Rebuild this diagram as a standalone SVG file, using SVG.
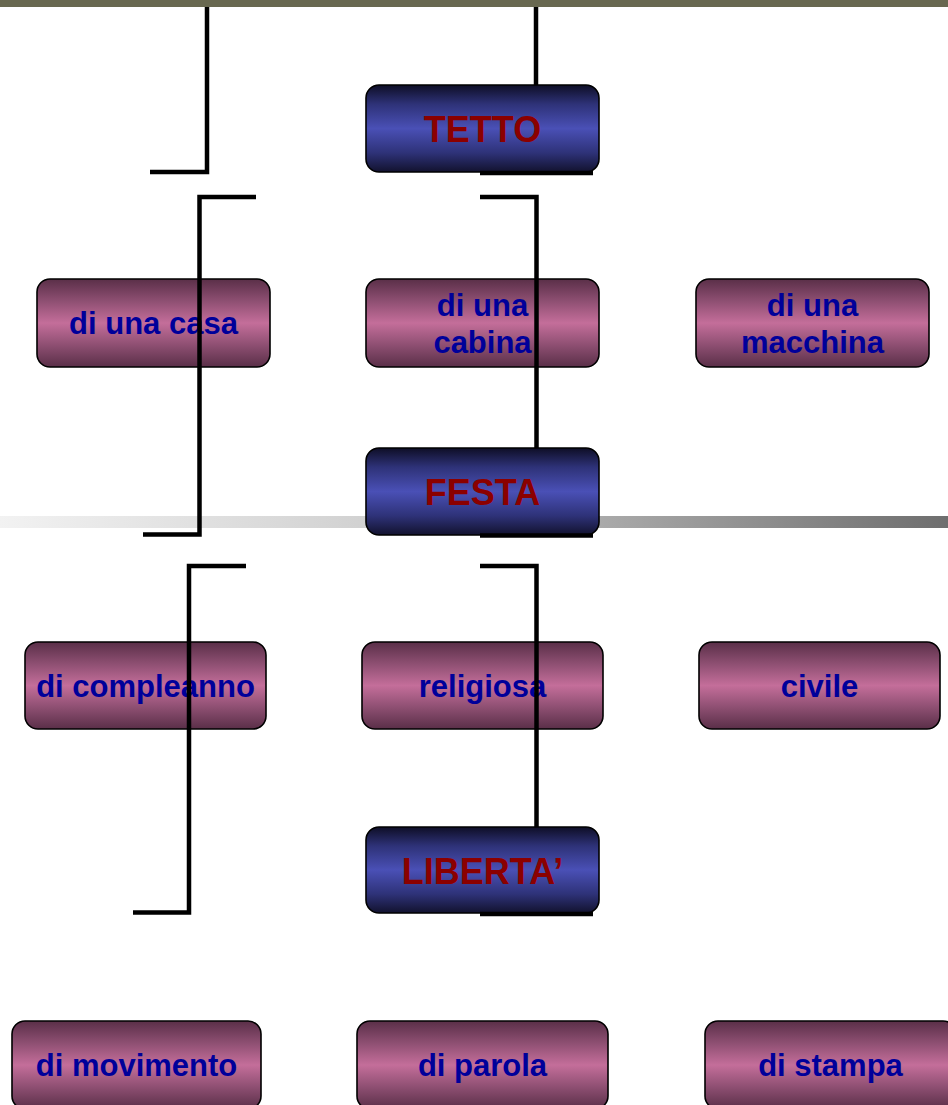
<svg xmlns="http://www.w3.org/2000/svg" width="948" height="1105" viewBox="0 0 948 1105">
<style>
.blue{fill:url(#gBlue);stroke:#000;stroke-width:1.6}
.pink{fill:url(#gPink);stroke:#000;stroke-width:1.6}
.tb{font-family:"Liberation Sans",Arial,sans-serif;font-weight:bold;font-size:36px;fill:#8b0000;text-anchor:middle}
.tp{font-family:"Liberation Sans",Arial,sans-serif;font-weight:bold;font-size:31px;fill:#00009a;text-anchor:middle}
.ln{fill:none;stroke:#000;stroke-width:4.5;stroke-linejoin:miter;stroke-linecap:butt}
</style>
<defs>
<linearGradient id="gBlue" x1="0" y1="0" x2="0" y2="1">
<stop offset="0" stop-color="#0e0e26"/>
<stop offset="0.22" stop-color="#2e3278"/>
<stop offset="0.5" stop-color="#4a50b6"/>
<stop offset="0.78" stop-color="#2e3278"/>
<stop offset="1" stop-color="#12122e"/>
</linearGradient>
<linearGradient id="gPink" x1="0" y1="0" x2="0" y2="1">
<stop offset="0" stop-color="#5a2f48"/>
<stop offset="0.25" stop-color="#8e4f72"/>
<stop offset="0.5" stop-color="#c46e9a"/>
<stop offset="0.75" stop-color="#8e4f72"/>
<stop offset="1" stop-color="#5a2f48"/>
</linearGradient>
<linearGradient id="gBar" x1="0" y1="0" x2="1" y2="0">
<stop offset="0" stop-color="#f2f2f2"/>
<stop offset="0.4" stop-color="#d0d0d0"/>
<stop offset="1" stop-color="#6e6e6e"/>
</linearGradient>
</defs>
<rect x="0" y="0" width="948" height="1105" fill="#ffffff"/>
<rect x="0" y="0" width="948" height="7" fill="#686850"/>
<rect x="0" y="516" width="948" height="12" fill="url(#gBar)"/>

<g id="tetto"><rect class="blue" x="366" y="85" width="233" height="87" rx="13"/><text class="tb" x="482.5" y="142">TETTO</text></g>
<g id="casa"><rect class="pink" x="37" y="279" width="233" height="88" rx="13"/><text class="tp" x="153.5" y="334">di una casa</text></g>
<g id="cabina"><rect class="pink" x="366" y="279" width="233" height="88" rx="13"/><text class="tp" x="482.5" y="316">di una</text><text class="tp" x="482.5" y="353">cabina</text></g>
<g id="macchina"><rect class="pink" x="696" y="279" width="233" height="88" rx="13"/><text class="tp" x="812.5" y="316">di una</text><text class="tp" x="812.5" y="353">macchina</text></g>
<g id="festa"><rect class="blue" x="366" y="448" width="233" height="87" rx="13"/><text class="tb" x="482.5" y="505">FESTA</text></g>
<g id="compleanno"><rect class="pink" x="25" y="642" width="241" height="87" rx="13"/><text class="tp" x="145.5" y="697">di compleanno</text></g>
<g id="religiosa"><rect class="pink" x="362" y="642" width="241" height="87" rx="13"/><text class="tp" x="482.5" y="697">religiosa</text></g>
<g id="civile"><rect class="pink" x="699" y="642" width="241" height="87" rx="13"/><text class="tp" x="819.5" y="697">civile</text></g>
<g id="liberta"><rect class="blue" x="366" y="827" width="233" height="86" rx="13"/><text class="tb" x="482.5" y="884">LIBERTA’</text></g>
<g id="movimento"><rect class="pink" x="12" y="1021" width="249" height="88" rx="13"/><text class="tp" x="136.5" y="1076">di movimento</text></g>
<g id="parola"><rect class="pink" x="357" y="1021" width="251" height="88" rx="13"/><text class="tp" x="482.5" y="1076">di parola</text></g>
<g id="stampa"><rect class="pink" x="705" y="1021" width="251" height="88" rx="13"/><text class="tp" x="830.5" y="1076">di stampa</text></g>

<g id="connectors">
<polyline class="ln" points="207,7 207,172 150,172"/>
<polyline class="ln" points="536,7 536,85"/>
<polyline class="ln" points="480,173 593,173"/>
<polyline class="ln" points="256,197 199.5,197 199.5,534.5 143,534.5"/>
<polyline class="ln" points="480,197 536.5,197 536.5,448"/>
<polyline class="ln" points="480,535.5 593,535.5"/>
<polyline class="ln" points="246,566 189,566 189,912.5 133,912.5"/>
<polyline class="ln" points="480,566 536.5,566 536.5,827"/>
<polyline class="ln" points="480,914 593,914"/>
</g>
</svg>
